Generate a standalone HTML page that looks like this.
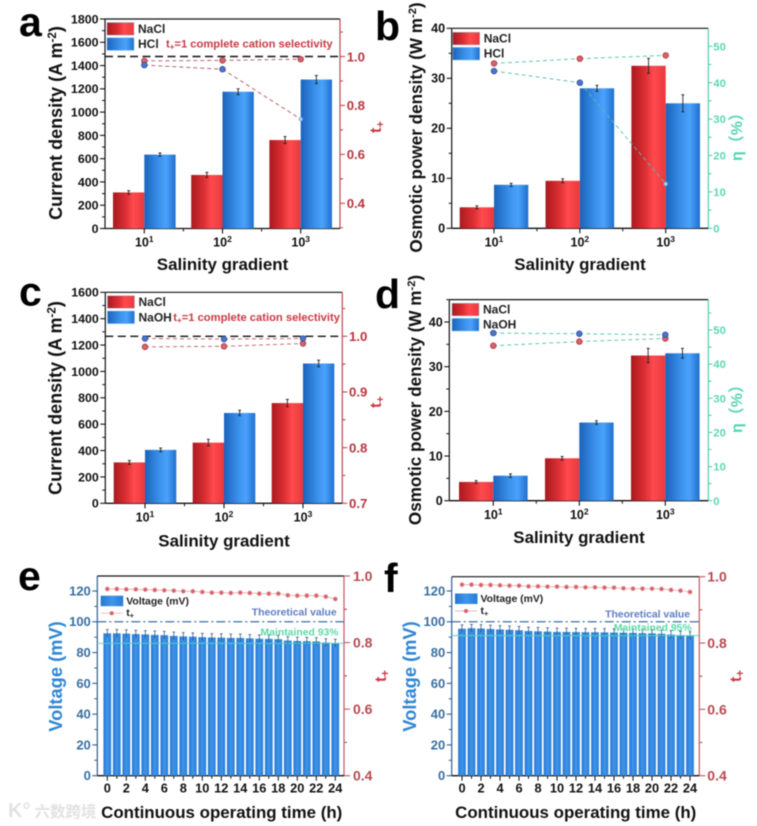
<!DOCTYPE html>
<html>
<head>
<meta charset="utf-8">
<style>
html,body{margin:0;padding:0;background:#fff;width:757px;height:826px;overflow:hidden}
svg{display:block;filter:blur(0.45px)}
text{font-family:"Liberation Sans","Noto Sans CJK SC",sans-serif;font-weight:bold}
</style>
</head>
<body>
<svg id="figure" xmlns="http://www.w3.org/2000/svg" width="757" height="826" viewBox="0 0 757 826">
<defs>
<linearGradient id="redGrad" x1="0" x2="1" y1="0" y2="0"><stop offset="0" stop-color="#a91a1f"/><stop offset="0.4" stop-color="#dc2f33"/><stop offset="0.65" stop-color="#ff4a4e"/><stop offset="1" stop-color="#e8393c"/></linearGradient>
<linearGradient id="blueGrad" x1="0" x2="1" y1="0" y2="0"><stop offset="0" stop-color="#1b63bb"/><stop offset="0.45" stop-color="#3a90ea"/><stop offset="0.7" stop-color="#4aa2fb"/><stop offset="1" stop-color="#1f70cc"/></linearGradient>
<linearGradient id="voltGrad" x1="0" x2="1" y1="0" y2="0"><stop offset="0" stop-color="#2676d2"/><stop offset="0.5" stop-color="#4096ea"/><stop offset="1" stop-color="#277bd8"/></linearGradient>
</defs>
</svg>
<script>
const salinityCategories = ['1', '2', '3'];

const aNaCl = [310, 460, 760];
const aHCl = [635, 1175, 1280];
const aNaClErr = [15, 22, 30];
const aHClErr = [14, 25, 35];
const aTNaCl = [0.982, 0.984, 0.989];
const aTHCl = [0.965, 0.948, 0.744];
const aLeftTicks = [0, 200, 400, 600, 800, 1000, 1200, 1400, 1600, 1800];
const aRightTicks = [0.4, 0.6, 0.8, 1.0];

const bNaCl = [4.2, 9.5, 32.5];
const bHCl = [8.7, 28, 25];
const bNaClErr = [0.3, 0.4, 1.5];
const bHClErr = [0.3, 0.6, 1.7];
const bEtaNaCl = [45.3, 46.6, 47.5];
const bEtaHCl = [43.2, 40, 12.2];
const bLeftTicks = [0, 10, 20, 30, 40];
const bRightTicks = [0, 10, 20, 30, 40, 50];

const cNaCl = [310, 460, 760];
const cNaOH = [405, 685, 1060];
const cNaClErr = [15, 25, 28];
const cNaOHErr = [14, 20, 25];
const cTNaCl = [0.981, 0.982, 0.987];
const cTNaOH = [0.996, 0.995, 0.996];
const cLeftTicks = [0, 200, 400, 600, 800, 1000, 1200, 1400, 1600];
const cRightTicks = [0.7, 0.8, 0.9, 1.0];

const dNaCl = [4.2, 9.5, 32.5];
const dNaOH = [5.6, 17.5, 33];
const dNaClErr = [0.3, 0.4, 1.6];
const dNaOHErr = [0.4, 0.4, 1.1];
const dEtaNaCl = [45.4, 46.6, 47.5];
const dEtaNaOH = [49.1, 48.9, 48.6];
const dLeftTicks = [0, 10, 20, 30, 40];
const dRightTicks = [0, 10, 20, 30, 40, 50];

const hours = [0,1,2,3,4,5,6,7,8,9,10,11,12,13,14,15,16,17,18,19,20,21,22,23,24];
const eVoltage = [92.5,92.5,92.3,92,91.8,91.5,91.3,90.8,90.5,90.3,90,89.8,89.7,89.5,89.5,89.2,89,88.9,88.7,87.8,87.5,87.4,87.2,86.5,86.2];
const eTPlus = [0.961,0.961,0.960,0.960,0.959,0.958,0.957,0.956,0.954,0.954,0.952,0.950,0.950,0.949,0.950,0.949,0.947,0.947,0.947,0.942,0.941,0.941,0.941,0.938,0.931];
const fVoltage = [95.5,95.8,95.6,95.3,95,94.8,94.5,94,93.8,93.6,93.4,93.4,93.3,93.2,93.2,93.1,93,92.9,92.8,92.6,92.5,92.2,91.7,91.3,91];
const fTPlus = [0.976,0.976,0.975,0.975,0.974,0.973,0.973,0.971,0.971,0.970,0.970,0.969,0.969,0.968,0.968,0.967,0.967,0.965,0.964,0.964,0.964,0.963,0.960,0.958,0.954];
const voltageErr = 2.5;
const voltageTicks = [0, 20, 40, 60, 80, 100, 120];
const tPlusTicks = [0.4, 0.6, 0.8, 1.0];

const svg = document.getElementById('figure');
const NS = 'http://www.w3.org/2000/svg';

function add(parent, tag, attrs, name, text) {
  const el = document.createElementNS(NS, tag);
  for (const k in attrs) el.setAttribute(k, attrs[k]);
  
  
  if (text !== undefined) el.textContent = text;
  parent.appendChild(el);
  return el;
}
function span(parent, attrs, name, text) { return add(parent, 'tspan', attrs, name, text); }
function linear(d0, d1, r0, r1) { return v => r0 + (v - d0) * (r1 - r0) / (d1 - d0); }
function line(g, x1, y1, x2, y2, color, w, name, dash) {
  const a = {x1, y1, x2, y2, stroke: color, 'stroke-width': w};
  if (dash) a['stroke-dasharray'] = dash;
  return add(g, 'line', a, name);
}
function rotText(g, x, y, size, color, name, len) {
  const a = {transform: `translate(${x},${y}) rotate(-90)`, 'font-size': size, fill: color, 'text-anchor': 'middle'};
  return add(g, 'text', a, name);
}
function frame(g, c) {
  line(g, c.l, c.t, c.r, c.t, c.topColor || '#111', 1.2, 'top-spine');
  line(g, c.l, c.t, c.l, c.b, c.leftColor, 1.2, 'left-spine');
  line(g, c.r, c.t, c.r, c.b, c.rightColor, 1.2, 'right-spine');
  line(g, c.l, c.b, c.r, c.b, '#111', 1.3, 'bottom-spine');
  c.leftTicks.forEach((v, i) => {
    const y = c.y(v);
    line(g, c.l - 5, y, c.l, y, c.leftColor, 1.1, 'left-tick');
    add(g, 'text', {x: c.l - 6.5, y: y + 4.4, 'font-size': c.leftFont, 'text-anchor': 'end', fill: c.leftText}, 'left-tick-label', String(v));
    const next = c.leftTicks[i + 1] !== undefined ? c.leftTicks[i + 1] : v + (v - c.leftTicks[i - 1]) / 2 * 2;
    const m = c.y((v + next) / 2);
    if (m > c.t) line(g, c.l - 3, m, c.l, m, c.leftColor, 1, 'left-minor-tick');
  });
  c.rightTicks.forEach((v, i) => {
    const y = c.ry(v);
    line(g, c.r, y, c.r + c.rTick, y, c.rightColor, 1.1, 'right-tick');
    add(g, 'text', {x: c.r + c.rLabel, y: y + c.rFont * 0.36, 'font-size': c.rFont, fill: c.rightText}, 'right-tick-label', c.rFixed ? v.toFixed(1) : String(v));
    const step = i > 0 ? v - c.rightTicks[i - 1] : c.rightTicks[1] - v;
    [v + step / 2, v - step / 2].forEach(w => {
      const m = c.ry(w);
      if (m > c.t + 1 && m < c.b) line(g, c.r, m, c.r + 3, m, c.rightColor, 1, 'right-minor-tick');
    });
  });
}
function barPanel(c) {
  const g = add(svg, 'g', {}, c.id);
  frame(g, c);
  const cx = i => c.x0 + (c.x2 - c.x0) * i / 2;
  const series = [
    {vals: c.s1, errs: c.e1, grad: 'url(#redGrad)', dx: -c.bw, nm: 'nacl-bar'},
    {vals: c.s2, errs: c.e2, grad: 'url(#blueGrad)', dx: 0, nm: 'second-salt-bar'}
  ];
  series.forEach(s => s.vals.forEach((v, i) => {
    const x = cx(i) + s.dx, y = c.y(v);
    add(g, 'rect', {x, y, width: c.bw, height: c.b - y, fill: s.grad}, s.nm);
    const mx = x + c.bw / 2, e = s.errs[i];
    line(g, mx, c.y(v + e), mx, c.y(v - e), '#222', 0.9, 'error-bar');
    line(g, mx - 1.5, c.y(v + e), mx + 1.5, c.y(v + e), '#222', 0.9, 'error-cap');
    line(g, mx - 1.5, c.y(v - e), mx + 1.5, c.y(v - e), '#222', 0.9, 'error-cap');
  }));
  if (c.refY !== undefined) line(g, c.l, c.ry(c.refY), c.r, c.ry(c.refY), '#111', 1.4, 'selectivity-reference-line', '8 4.5');
  [[c.p1, '#d9636c', '#a8353d'], [c.p2, '#4d74c9', '#2c4f9e']].forEach(([p, fill, st]) => {
    for (let i = 0; i < p.length - 1; i++) line(g, cx(i), c.ry(p[i]), cx(i + 1), c.ry(p[i + 1]), c.dashColor, 0.9, 'trend-dash-line', '4 3');
    p.forEach((v, i) => {
      const pale = c.paleLast && fill === '#4d74c9' && i === p.length - 1;
      add(g, 'circle', {cx: cx(i), cy: c.ry(v), r: pale ? 1.8 : 2.8, fill: pale ? '#a9cdf5' : fill, stroke: pale ? '#7fb0e6' : st, 'stroke-width': 0.8}, 'trend-point');
    });
  });
  salinityCategories.forEach((e, i) => {
    const x = cx(i);
    line(g, x, c.b, x, c.b + 5, '#111', 1.1, 'x-tick');
    if (i < 2) line(g, (x + cx(i + 1)) / 2, c.b, (x + cx(i + 1)) / 2, c.b + 3, '#111', 1, 'x-minor-tick');
    const t = add(g, 'text', {x, y: c.xTickY, 'font-size': 12.5, 'text-anchor': 'middle', fill: '#111'}, 'x-tick-label', '10');
    span(t, {dy: -4.5, 'font-size': 8.5}, 'x-tick-exponent', e);
  });
  add(g, 'text', {x: c.xTitleX, y: c.xTitleY, 'font-size': 16.9, 'text-anchor': 'middle', fill: '#111'}, 'x-axis-title', 'Salinity gradient');
  const yt = rotText(g, c.yTitleX, c.yTitleY, c.yTitleFont, '#111', 'y-axis-title');
  yt.textContent = c.yTitle;
  span(yt, {dy: -6, 'font-size': c.yTitleFont * 0.65}, 'y-axis-title-exponent', '-2');
  span(yt, {dy: 6}, 'y-axis-title-end', ')');
  const rt = rotText(g, c.rTitleX, c.rTitleY, c.rTitleFont, c.rTitleColor, 'right-axis-title');
  rt.textContent = c.rTitle;
  if (c.rSub) span(rt, {dy: 3, 'font-size': c.rTitleFont * 0.7}, 'right-axis-title-subscript', c.rSub);
  [[c.sw1, 'url(#redGrad)', c.n1], [c.sw2, 'url(#blueGrad)', c.n2]].forEach(([y, fill, n]) => {
    add(g, 'rect', {x: c.swX, y, width: 27, height: 12.6, fill, stroke: '#7cc0ee', 'stroke-width': 0.4}, 'legend-swatch');
    add(g, 'text', {x: c.swX + 31, y: y + 10.3, 'font-size': 12, fill: '#222'}, 'legend-label', n);
  });
  add(g, 'text', {x: c.letterX, y: c.letterY, 'font-size': 41, fill: '#000'}, 'panel-letter', c.id.slice(-1));
  if (c.note) {
    const t = add(g, 'text', {x: c.noteX, y: c.noteY, 'font-size': 11.2, fill: '#c83a44'}, 'selectivity-note', 't');
    span(t, {dy: 2, 'font-size': 8}, 'note-subscript', '+');
    span(t, {dy: -2}, 'note-text', '=1 complete cation selectivity');
  }
}
function voltPanel(c) {
  const g = add(svg, 'g', {}, c.id);
  const x = linear(0, 24, c.x0, c.x24);
  frame(g, c);
  hours.forEach((h, i) => {
    const v = c.volt[i], bw = 7.7, y = c.y(v);
    add(g, 'rect', {x: x(h) - bw / 2, y, width: bw, height: c.b - y, fill: 'url(#voltGrad)'}, 'voltage-bar');
    line(g, x(h), c.y(v + voltageErr), x(h), c.y(v - voltageErr), '#24456e', 0.7, 'error-bar');
    line(g, x(h) - 1.4, c.y(v + voltageErr), x(h) + 1.4, c.y(v + voltageErr), '#24456e', 0.7, 'error-cap');
    line(g, x(h), c.b, x(h), c.b + (h % 2 ? 3 : 5), '#111', 1, 'x-tick');
    if (h % 2 === 0) add(g, 'text', {x: x(h), y: 792.7, 'font-size': 12.8, 'text-anchor': 'middle', fill: '#111'}, 'x-tick-label', String(h));
  });
  line(g, c.l, c.y(100), c.r, c.y(100), '#3f6d9f', 1.2, 'theoretical-value-line', '9 3 2 3');
  line(g, c.l, c.y(c.keep), c.r, c.y(c.keep), '#4fd4c0', 0.9, 'maintained-line');
  for (let i = 0; i < hours.length - 1; i++) line(g, x(hours[i]), c.ry(c.t1[i]), x(hours[i + 1]), c.ry(c.t1[i + 1]), '#d88a90', 0.6, 'tplus-line');
  hours.forEach((h, i) => add(g, 'circle', {cx: x(h), cy: c.ry(c.t1[i]), r: 2.1, fill: '#d4606a', stroke: '#eaa', 'stroke-width': 0.7}, 'tplus-point'));
  add(g, 'rect', {x: c.lgX, y: c.lgY, width: 22.5, height: 10.5, fill: 'url(#voltGrad)'}, 'legend-swatch-voltage');
  add(g, 'text', {x: c.lgX + 25.5, y: c.lgY + 8.6, 'font-size': 10.4, fill: '#222'}, 'legend-label-voltage', 'Voltage (mV)');
  line(g, c.lgX, c.lgY + 17.5, c.lgX + 22, c.lgY + 17.5, '#e0a0a5', 0.7, 'legend-line-tplus');
  add(g, 'circle', {cx: c.lgX + 11, cy: c.lgY + 17.5, r: 2, fill: '#d4606a'}, 'legend-point-tplus');
  const lt = add(g, 'text', {x: c.lgX + 25.5, y: c.lgY + 20.5, 'font-size': 10.4, fill: '#222'}, 'legend-label-tplus', 't');
  span(lt, {dy: 2, 'font-size': 7.5}, 'legend-subscript', '+');
  add(g, 'text', {x: c.thX, y: c.thY, 'font-size': 10.4, 'text-anchor': 'end', fill: '#5f7cc2'}, 'theoretical-value-label', 'Theoretical value');
  add(g, 'text', {x: c.mX, y: c.mY, 'font-size': 10.4, 'text-anchor': 'end', fill: '#5cd9aa'}, 'maintained-label', c.mText);
  add(g, 'text', {x: c.xTitleX, y: 818, 'font-size': 16.9, 'text-anchor': 'middle', fill: '#111'}, 'x-axis-title', 'Continuous operating time (h)');
  const yt = rotText(g, c.yTitleX, 676.5, 18.3, '#2e86d6', 'y-axis-title');
  yt.textContent = 'Voltage (mV)';
  const rt = rotText(g, c.rTitleX, 676, 16, '#c83a44', 'right-axis-title');
  rt.textContent = 't';
  span(rt, {dy: 3, 'font-size': 11.5}, 'right-axis-title-subscript', '+');
  add(g, 'text', {x: c.letterX, y: c.letterY, 'font-size': 41, fill: '#000'}, 'panel-letter', c.id.slice(-1));
}

barPanel({id: 'panel-a', l: 105, r: 340, t: 19, b: 228.5, y: linear(0, 1800, 228.5, 19), ry: linear(0.4, 1.0, 203.3, 56.5),
  s1: aNaCl, s2: aHCl, e1: aNaClErr, e2: aHClErr, p1: aTNaCl, p2: aTHCl, leftTicks: aLeftTicks, rightTicks: aRightTicks,
  x0: 144.3, x2: 300.7, bw: 31.3, refY: 1.0, dashColor: '#b0565c', paleLast: true, leftColor: '#111', leftText: '#111', leftFont: 12.4,
  rightColor: '#bd4a50', rightText: '#b8363c', rFont: 13.2, rTick: 5, rLabel: 6.7, rFixed: true, topColor: '#111',
  xTickY: 246.7, xTitleX: 222.5, xTitleY: 270, yTitleX: 62, yTitleY: 123, yTitleFont: 18, yTitle: 'Current density (A m',
  rTitleX: 381, rTitleY: 127, rTitleFont: 16, rTitleColor: '#c83a44', rTitle: 't', rSub: '+',
  swX: 107, sw1: 22.5, sw2: 37.8, n1: 'NaCl', n2: 'HCl', letterX: 19, letterY: 36, note: true, noteX: 166, noteY: 47.7});

barPanel({id: 'panel-b', l: 451.7, r: 708.3, t: 28.3, b: 228.3, y: linear(0, 40, 228.3, 28.3), ry: linear(0, 50, 228.3, 46.3),
  s1: bNaCl, s2: bHCl, e1: bNaClErr, e2: bHClErr, p1: bEtaNaCl, p2: bEtaHCl, leftTicks: bLeftTicks, rightTicks: bRightTicks,
  x0: 494, x2: 665.7, bw: 34.3, dashColor: '#52bfae', paleLast: true, leftColor: '#111', leftText: '#111', leftFont: 12.6,
  rightColor: '#4ad2ae', rightText: '#5cd6b6', rFont: 11.3, rTick: 4, rLabel: 5, rFixed: false, topColor: '#111',
  xTickY: 246.7, xTitleX: 580, xTitleY: 270, yTitleX: 422, yTitleY: 127.5, yTitleFont: 17.1, yTitle: 'Osmotic power density (W m',
  rTitleX: 742, rTitleY: 133, rTitleFont: 16, rTitleColor: '#55d3b2', rTitle: 'η（%）',
  swX: 452.7, sw1: 32.3, sw2: 47.4, n1: 'NaCl', n2: 'HCl', letterX: 375, letterY: 40});

barPanel({id: 'panel-c', l: 105.3, r: 342.3, t: 292.3, b: 503.3, y: linear(0, 1600, 503.3, 292.3), ry: linear(0.7, 1.0, 503.3, 336.3),
  s1: cNaCl, s2: cNaOH, e1: cNaClErr, e2: cNaOHErr, p1: cTNaCl, p2: cTNaOH, leftTicks: cLeftTicks, rightTicks: cRightTicks,
  x0: 145, x2: 303, bw: 31.3, refY: 1.0, dashColor: '#c05a62', leftColor: '#111', leftText: '#111', leftFont: 12.4,
  rightColor: '#bd4a50', rightText: '#b8363c', rFont: 13.2, rTick: 5, rLabel: 6.7, rFixed: true, topColor: '#111',
  xTickY: 521.7, xTitleX: 224, xTitleY: 546.5, yTitleX: 61.5, yTitleY: 398, yTitleFont: 18, yTitle: 'Current density (A m',
  rTitleX: 381, rTitleY: 402, rTitleFont: 16, rTitleColor: '#c83a44', rTitle: 't', rSub: '+',
  swX: 107.5, sw1: 295.7, sw2: 311, n1: 'NaCl', n2: 'NaOH', letterX: 19, letterY: 305.7, note: true, noteX: 173.3, noteY: 321});

barPanel({id: 'panel-d', l: 449.3, r: 708.3, t: 299.6, b: 500.7, y: linear(0, 40, 500.7, 322), ry: linear(0, 50, 500.7, 330),
  s1: dNaCl, s2: dNaOH, e1: dNaClErr, e2: dNaOHErr, p1: dEtaNaCl, p2: dEtaNaOH, leftTicks: dLeftTicks, rightTicks: dRightTicks,
  x0: 493.3, x2: 665.3, bw: 34.3, dashColor: '#52bfae', leftColor: '#111', leftText: '#111', leftFont: 12.6,
  rightColor: '#4ad2ae', rightText: '#5cd6b6', rFont: 11.3, rTick: 4, rLabel: 5, rFixed: false, topColor: '#111',
  xTickY: 519, xTitleX: 579, xTitleY: 543, yTitleX: 421, yTitleY: 400, yTitleFont: 17.1, yTitle: 'Osmotic power density (W m',
  rTitleX: 742, rTitleY: 405, rTitleFont: 16, rTitleColor: '#55d3b2', rTitle: 'η（%）',
  swX: 452, sw1: 303.3, sw2: 318.4, n1: 'NaCl', n2: 'NaOH', letterX: 375, letterY: 308});

voltPanel({id: 'panel-e', l: 97.3, r: 344, t: 576, b: 775.7, y: linear(0, 120, 775.7, 591), ry: linear(0.4, 1.0, 775.7, 576),
  volt: eVoltage, t1: eTPlus, x0: 107.3, x24: 335.3, keep: 86, leftTicks: voltageTicks, rightTicks: tPlusTicks,
  leftColor: '#2f5f8f', leftText: '#3a6f9f', leftFont: 13, rightColor: '#bd5a60', rightText: '#b84a50', rFont: 14, rTick: 6, rLabel: 9, rFixed: true,
  lgX: 100.7, lgY: 595.7, thX: 336.7, thY: 615.7, mX: 338.5, mY: 635.7, mText: 'Maintained 93%', xTitleX: 221.7, yTitleX: 62, rTitleX: 386, letterX: 18, letterY: 590});

voltPanel({id: 'panel-f', l: 451.7, r: 699.3, t: 576.7, b: 775.7, y: linear(0, 120, 775.7, 591), ry: linear(0.4, 1.0, 775.7, 576.7),
  volt: fVoltage, t1: fTPlus, x0: 462, x24: 690, keep: 91, leftTicks: voltageTicks, rightTicks: tPlusTicks,
  leftColor: '#2f5f8f', leftText: '#3a6f9f', leftFont: 13, rightColor: '#bd5a60', rightText: '#b84a50', rFont: 14, rTick: 6, rLabel: 8, rFixed: true,
  lgX: 455, lgY: 593.5, thX: 690, thY: 617.3, mX: 691.7, mY: 631, mText: 'Maintained 95%', xTitleX: 575.7, yTitleX: 416, rTitleX: 741, letterX: 384, letterY: 592});

const wm = add(svg, 'text', {x: 8, y: 817, 'font-size': 20, fill: '#e2e2e2'}, 'watermark', 'K°');
span(wm, {dx: 4, 'font-size': 15.5}, 'watermark-name', '六数跨境');
</script>
</body>
</html>
